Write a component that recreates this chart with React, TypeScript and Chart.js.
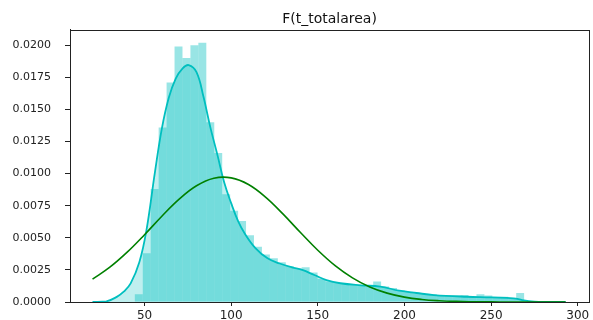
import React, { useEffect, useRef } from "react";
import { Chart, registerables } from "chart.js";

Chart.register(...registerables);

const titleText = "F(t_totalarea)";

// histogram bins (density)
const binStart = 44.4;
const binWidth = 4.585;
const histDensity = [
  0.0006, 0.0038, 0.0088, 0.0136, 0.0171, 0.0199, 0.019, 0.02, 0.0202, 0.014,
  0.0116, 0.0084, 0.0071, 0.0063, 0.0052, 0.0043, 0.0037, 0.0034, 0.0031, 0.0028,
  0.0026, 0.0027, 0.0023, 0.0018, 0.0016, 0.0015, 0.0014, 0.0013, 0.0013, 0.0012,
  0.0016, 0.0012, 0.0011, 0.0009, 0.0008, 0.0007, 0.0006, 0.0006, 0.0005, 0.0005,
  0.0005, 0.00055, 0.0004, 0.0006, 0.0005, 0.0004, 0.0004, 0.0003, 0.0007,
];

// KDE curve
const kdeX = [
  20, 28, 34, 38, 42, 47, 51, 56, 60, 64, 68, 72, 75.5, 80, 84, 88, 92, 96, 100,
  104, 108, 114, 121, 128, 135, 141, 148, 155, 163, 175, 186, 197, 207, 217, 236,
  250, 263, 268, 275, 282, 293,
];
const kdeY = [
  0, 0.00005, 0.0004, 0.0008, 0.00145, 0.0031, 0.0055, 0.0101, 0.0135, 0.0159,
  0.0174, 0.0182, 0.01845, 0.0179, 0.016, 0.0136, 0.0115, 0.0093, 0.0077, 0.0063,
  0.0053, 0.0042, 0.0034, 0.003, 0.0027, 0.0025, 0.0021, 0.0017, 0.00146, 0.0013,
  0.0012, 0.00088, 0.0007, 0.00054, 0.00041, 0.00036, 0.00029, 0.00015, 0.00003,
  0, 0,
];

// fitted normal curve
const fitX = [
  20, 30, 40, 50, 60, 70, 80, 90, 100, 110, 120, 130, 140, 150, 160, 170, 180,
  190, 200, 210, 220, 230, 240, 250, 260, 275, 293,
];
const fitY = [
  0.00178, 0.00271, 0.00388, 0.00524, 0.00668, 0.00801, 0.00905, 0.00964,
  0.00967, 0.00915, 0.00815, 0.00684, 0.00541, 0.00403, 0.00283, 0.00188,
  0.00117, 0.00069, 0.00038, 0.0002, 0.0001, 0.000045, 0.00002, 0.000008,
  0.000003, 0, 0,
];

const xTicks = [50, 100, 150, 200, 250, 300];
const yTicks = [0, 0.0025, 0.005, 0.0075, 0.01, 0.0125, 0.015, 0.0175, 0.02];

const AXIS = "#222";

const framePlugin = {
  id: "frame",
  afterDatasetsDraw(chart: any) {
    const { ctx, chartArea } = chart;
    ctx.save();
    ctx.strokeStyle = AXIS;
    ctx.lineWidth = 1;
    ctx.strokeRect(
      Math.round(chartArea.left) + 0.5,
      Math.round(chartArea.top) + 0.5,
      Math.round(chartArea.right - chartArea.left),
      Math.round(chartArea.bottom - chartArea.top)
    );
    ctx.restore();
  },
};

export default function App() {
  const ref = useRef<HTMLCanvasElement | null>(null);

  useEffect(() => {
    if (!ref.current) return;
    const barData = histDensity.map((y, i) => ({
      x: binStart + binWidth * (i + 0.5),
      y,
    }));
    const kdeData = kdeX.map((x, i) => ({ x, y: kdeY[i] }));
    const fitData = fitX.map((x, i) => ({ x, y: fitY[i] }));

    const chart = new Chart(ref.current, {
      type: "bar",
      data: {
        datasets: [
          {
            type: "line",
            data: fitData,
            borderColor: "#008000",
            borderWidth: 1.6,
            pointRadius: 0,
            fill: false,
            tension: 0.4,
            order: 1,
          } as any,
          {
            type: "line",
            data: kdeData,
            borderColor: "rgb(0,191,191)",
            backgroundColor: "rgba(0,191,191,0.25)",
            borderWidth: 1.8,
            pointRadius: 0,
            fill: "origin",
            tension: 0.4,
            order: 2,
          } as any,
          {
            type: "bar",
            data: barData,
            backgroundColor: "rgba(0,191,191,0.4)",
            borderWidth: 0,
            inflateAmount: 0,
            barPercentage: 1,
            categoryPercentage: 1,
            order: 3,
          } as any,
        ],
      },
      options: {
        animation: false,
        responsive: false,
        devicePixelRatio: 1,
        layout: { padding: { left: 0, right: 4, top: 0, bottom: 0 } },
        plugins: {
          legend: { display: false },
          tooltip: { enabled: false },
          title: {
            display: true,
            text: titleText,
            fullSize: false,
            color: "#111",
            font: { family: "DejaVu Sans", size: 14, weight: "normal", lineHeight: 1.2 },
            padding: { top: 11, bottom: 2 },
          },
        },
        scales: {
          x: {
            type: "linear",
            min: 7,
            max: 306.5,
            offset: false,
            afterBuildTicks: (axis: any) => {
              axis.ticks = xTicks.map((v) => ({ value: v }));
            },
            afterFit: (scale: any) => {
              scale.height = 18;
              scale.paddingLeft = 0;
              scale.paddingRight = 0;
            },
            grid: {
              display: true,
              drawOnChartArea: false,
              drawTicks: true,
              tickLength: 4,
              tickColor: AXIS,
              offset: false,
            },
            border: { display: true, color: AXIS },
            ticks: {
              color: "#222",
              padding: 3,
              maxRotation: 0,
              autoSkip: false,
              font: { family: "DejaVu Sans", size: 12 },
              callback: (v: any) => String(v),
            },
          },
          y: {
            type: "linear",
            min: 0,
            max: 0.0212,
            afterBuildTicks: (axis: any) => {
              axis.ticks = yTicks.map((v) => ({ value: v }));
            },
            afterFit: (scale: any) => {
              scale.width = 70;
              scale.paddingTop = 0;
              scale.paddingBottom = 0;
            },
            grid: {
              display: true,
              drawOnChartArea: false,
              drawTicks: true,
              tickLength: 5,
              tickColor: AXIS,
            },
            border: { display: true, color: AXIS },
            ticks: {
              color: "#222",
              padding: 14,
              autoSkip: false,
              font: { family: "DejaVu Sans", size: 11 },
              callback: (v: any) => Number(v).toFixed(4),
            },
          },
        },
      },
      plugins: [framePlugin],
    });
    return () => chart.destroy();
  }, []);

  return (
    <div style={{ position: "fixed", left: 0, top: 0, width: 593, height: 320, background: "#fff" }}>
      <canvas ref={ref} width={593} height={320} style={{ width: 593, height: 320, display: "block" }} />
    </div>
  );
}
